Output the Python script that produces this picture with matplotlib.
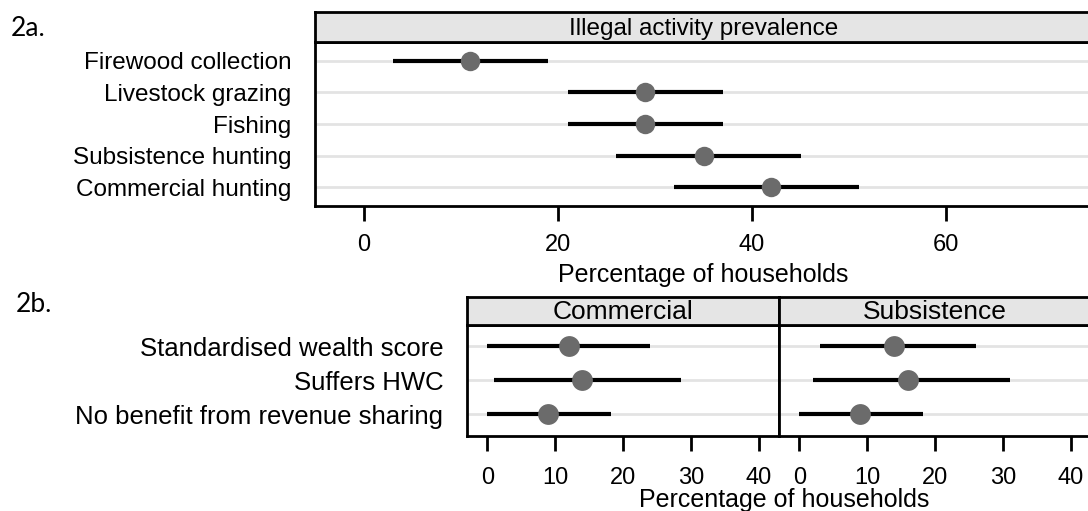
import matplotlib
matplotlib.use("Agg")
import matplotlib.pyplot as plt
from matplotlib import font_manager

plt.rcParams['font.family'] = ['Liberation Sans', 'DejaVu Sans']

# panel a data
activities = ["Firewood collection", "Livestock grazing", "Fishing",
              "Subsistence hunting", "Commercial hunting"]
prev = [11, 29, 29, 35, 42]
prev_lo = [3, 21, 21, 26, 32]
prev_hi = [19, 37, 37, 45, 51]

# panel b data
factors = ["Standardised wealth score", "Suffers HWC", "No benefit from revenue sharing"]
comm = [12, 14, 9]
comm_lo = [0, 1, 0]
comm_hi = [24, 28.5, 18.3]
subs = [14, 16, 9]
subs_lo = [3, 2, 0]
subs_hi = [26, 31, 18.3]

W, H = 1088, 511
fig = plt.figure(figsize=(W / 100, H / 100), dpi=100)

grey_pt = "#6b6b6b"
strip_col = "#e5e5e5"
grid_col = "#e3e3e3"

# the top strip title looks condensed in the original
names = {f.name for f in font_manager.fontManager.ttflist}
if "Liberation Sans Narrow" in names:
    narrow, narrow_size = "Liberation Sans Narrow", 21
else:
    narrow, narrow_size = "Liberation Sans", 17.5


def box(x0, y0, x1, y1):
    # pixel box (top-left origin) -> figure fraction rect
    return [x0 / W, 1 - y1 / H, (x1 - x0) / W, (y1 - y0) / H]


def strip(rect, title, size, family="Liberation Sans"):
    s = fig.add_axes(rect)
    s.set_facecolor(strip_col)
    s.set_xticks([])
    s.set_yticks([])
    for sp in s.spines.values():
        sp.set_linewidth(2)
    s.text(0.5, 0.45, title, ha="center", va="center", fontsize=size,
           family=[family, "DejaVu Sans"], transform=s.transAxes)
    return s


def dotplot(ax, vals, lo, hi, labels, xlim, ylim, xticks, lsize, xpad, ms):
    ys = list(range(1, len(vals) + 1))
    for y in ys:
        ax.axhline(y, color=grid_col, lw=2, zorder=0)
    ax.hlines(ys, lo, hi, color="black", lw=3, zorder=2)
    ax.plot(vals, ys, "o", color=grey_pt, ms=ms, mec="none", zorder=3)
    ax.set_xlim(*xlim)
    ax.set_ylim(*ylim)
    ax.set_xticks(xticks)
    ax.tick_params(axis="x", length=11, width=2, pad=xpad, labelsize=17)
    if labels:
        ax.set_yticks(ys)
        ax.set_yticklabels(labels, fontsize=lsize)
        ax.tick_params(axis="y", length=0, pad=17)
    else:
        ax.set_yticks([])
    for sp in ax.spines.values():
        sp.set_linewidth(2)


# panel a
ax1 = fig.add_axes(box(315, 42, 1092, 206))
dotplot(ax1, prev, prev_lo, prev_hi, activities, (-5, 75), (5.6, 0.4),
        [0, 20, 40, 60], 17.5, 9, 14)
ax1.set_xlabel("Percentage of households", fontsize=18, labelpad=5)
strip(box(315, 12, 1092, 42), "Illegal activity prevalence", narrow_size, narrow)

# panel b
ax2 = fig.add_axes(box(467, 325, 779, 436))
dotplot(ax2, comm, comm_lo, comm_hi, factors, (-3, 43), (3.63, 0.38),
        [0, 10, 20, 30, 40], 18.5, 11, 15)
ax3 = fig.add_axes(box(779, 325, 1091, 436))
dotplot(ax3, subs, subs_lo, subs_hi, None, (-3, 43), (3.63, 0.38),
        [0, 10, 20, 30, 40], 18.5, 11, 15)
strip(box(467, 297, 779, 325), "Commercial", 19)
strip(box(779, 297, 1091, 325), "Subsistence", 19)
fig.text(784 / W, 1 - 500 / H, "Percentage of households", ha="center", va="center",
         fontsize=18)

fig.text(11 / W, 1 - 29 / H, "2a.", fontsize=19, family=["Lato", "DejaVu Sans"], va="center")
fig.text(16 / W, 1 - 304 / H, "2b.", fontsize=19, family=["Lato", "DejaVu Sans"], va="center")

fig.savefig("out.png", dpi=100)
